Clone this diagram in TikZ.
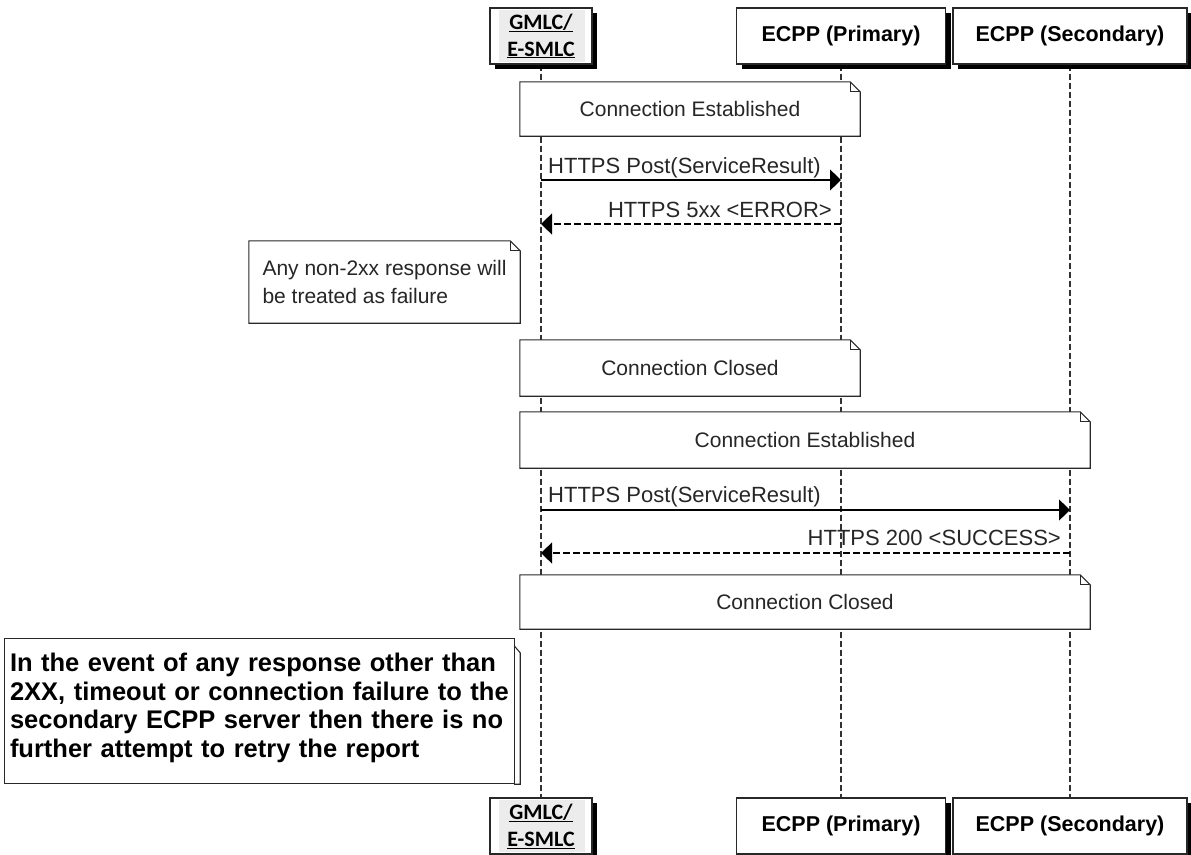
\documentclass[tikz,border=0pt]{standalone}
\usepackage{fontspec}
\setmainfont{Liberation Sans}
\newfontfamily\calibri{Carlito}
\usetikzlibrary{arrows.meta,positioning,calc,shadows,backgrounds}
\definecolor{lifegray}{RGB}{50,50,50}
\definecolor{hlgray}{RGB}{236,236,236}
\definecolor{txtgray}{RGB}{38,38,38}
\definecolor{edgegray}{RGB}{40,40,40}
\tikzset{
  head/.style={draw=edgegray, fill=white, line width=1.1pt, minimum height=56pt, align=center,
               drop shadow={shadow xshift=5pt, shadow yshift=-5pt, fill=black, opacity=1}},
  ecpp/.style={head, font=\fontsize{21.5}{26}\selectfont\bfseries},
  gmlc/.style={head, minimum width=102pt, inner sep=0pt,
               font=\calibri\fontsize{22}{27}\selectfont\bfseries,
               path picture={\fill[hlgray] ([xshift=9pt,yshift=2pt]path picture bounding box.south west)
                 rectangle ([xshift=-7pt,yshift=-2pt]path picture bounding box.north east);}},
  life/.style={lifegray, line width=1.2pt, dash pattern=on 6pt off 3pt},
  notetxt/.style={font=\fontsize{21}{28}\selectfont, text=txtgray, inner sep=0pt},
  lbltxt/.style={font=\fontsize{22}{28}\selectfont, text=txtgray, inner sep=0pt},
  notebox/.style={notetxt, minimum height=54pt},
  notebg/.style={draw=edgegray, fill=white, line width=1.1pt},
  msg/.style={-{Triangle[length=11pt,width=21pt]}, black, line width=1.1pt},
  reply/.style={msg, dash pattern=on 7pt off 3pt},
  warntxt/.style={font=\fontsize{25.5}{28.7}\selectfont\bfseries, text=black, align=left,
                  text width=540pt, inner sep=0pt},
}

\begin{document}
\begin{tikzpicture}[x=1pt, y=-1pt]
  \useasboundingbox (0,0) rectangle (1191,854);
  % participants, top and bottom
  \node[gmlc] (gmlcT) at (541,36) {\underline{GMLC/}\\\underline{E-SMLC}};
  \node[ecpp, minimum width=209pt] (primT) at (841,36) {ECPP (Primary)};
  \node[ecpp, minimum width=234pt] (secT) at (1070,36) {ECPP (Secondary)};
  \node[gmlc] (gmlcB) at (541,826) {\underline{GMLC/}\\\underline{E-SMLC}};
  \node[ecpp, minimum width=209pt] (primB) at (841,826) {ECPP (Primary)};
  \node[ecpp, minimum width=234pt] (secB) at (1070,826) {ECPP (Secondary)};

  % notes
  \node[notebox, minimum width=340pt] (est1) at (690,109) {Connection Established};
  \node[notebox, minimum width=271pt, minimum height=82pt, align=left] (fail) at (384.5,282)
       {Any non-2xx response will\\be treated as failure};
  \node[notebox, minimum width=340pt, minimum height=56pt] (clo1) at (690,368) {Connection Closed};
  \node[notebox, minimum width=570pt, minimum height=56pt] (est2) at (805,440) {Connection Established};
  \node[notebox, minimum width=570pt] (clo2) at (805,602) {Connection Closed};
  \node[minimum width=509pt, minimum height=144pt, inner sep=0pt] (warnbox) at (259.5,711) {};
  \node[warntxt, anchor=west] (warn) at ($(warnbox.west)+(5,-3)$) {In the event of any response other than\\
       2XX, timeout or connection failure to the\\secondary ECPP server then there is no\\
       further attempt to retry the report};

  % messages
  \coordinate (m1a) at (gmlcT |- 0,180);
  \coordinate (m1b) at (primT |- 0,180);
  \coordinate (m2a) at (gmlcT |- 0,224);
  \coordinate (m2b) at (primT |- 0,224);
  \coordinate (m3a) at (gmlcT |- 0,510);
  \coordinate (m3b) at (secT |- 0,510);
  \coordinate (m4a) at (gmlcT |- 0,553);
  \coordinate (m4b) at (secT |- 0,553);
  \draw[msg] (m1a) -- (m1b);
  \node[lbltxt, anchor=base west] (lbl1) at ($(m1a)+(7,-7)$) {HTTPS Post(ServiceResult)};
  \draw[reply] (m2b) -- (m2a);
  \node[lbltxt, anchor=base east] (lbl2) at ($(m2b)+(-9,-7)$) {HTTPS 5xx <ERROR>};
  \draw[msg] (m3a) -- (m3b);
  \node[lbltxt, anchor=base west] (lbl3) at ($(m3a)+(7,-8)$) {HTTPS Post(ServiceResult)};
  \draw[reply] (m4b) -- (m4a);
  \node[lbltxt, anchor=base east] (lbl4) at ($(m4b)+(-9,-8)$) {HTTPS 200 <SUCCESS>};

  \begin{pgfonlayer}{background}
    \draw[life] (gmlcT) -- (gmlcB);
    \draw[life] (primT) -- (primB);
    \draw[life] (secT) -- (secB);
    \foreach \n in {est1,fail,clo1,est2,clo2}{
      \filldraw[notebg] (\n.north west) -- ($(\n.north east)+(-10,0)$) -- ($(\n.north east)+(0,10)$)
        -- (\n.south east) -- (\n.south west) -- cycle;
      \draw[notebg, fill=none] ($(\n.north east)+(-10,0)$) |- ($(\n.north east)+(0,10)$);
    }
    \filldraw[notebg] (warnbox.north west) rectangle (warnbox.south east);
    \draw[notebg, fill=none] ($(warnbox.north east)+(0,7)$) -- ++(6,7) |- ($(warnbox.south east)+(0,1)$);
  \end{pgfonlayer}
\end{tikzpicture}
\end{document}
